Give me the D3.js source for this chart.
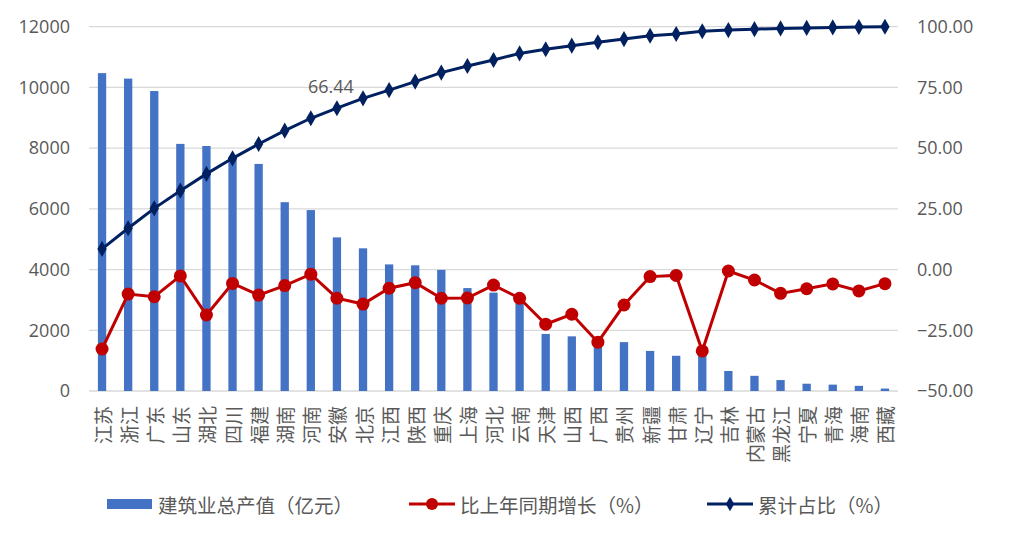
<!DOCTYPE html>
<html>
<head>
<meta charset="utf-8">
<script src="https://cdn.jsdelivr.net/npm/d3@7"></script>
<style>
  body { margin: 0; background: #fff; }
  text { font-family: "Noto Sans CJK SC", "Noto Sans", sans-serif; }
</style>
</head>
<body>
<svg id="chart" width="1009" height="543"></svg>
<script>
// ############################################
// DATA
var provinces = ["江苏","浙江","广东","山东","湖北","四川","福建","湖南","河南","安徽",
  "北京","江西","陕西","重庆","上海","河北","云南","天津","山西","广西",
  "贵州","新疆","甘肃","辽宁","吉林","内蒙古","黑龙江","宁夏","青海","海南","西藏"];

// 建筑业总产值（亿元）
var outputValue = [10470,10290,9880,8140,8070,7700,7480,6220,5960,5060,
  4700,4170,4140,3990,3390,3240,3050,1880,1800,1650,
  1610,1320,1160,1200,660,500,360,240,210,170,80];

// 比上年同期增长（%）
var growthRate = [-32.7,-10.1,-11.2,-2.6,-18.7,-5.7,-10.5,-6.6,-1.9,-11.8,
  -14.2,-7.7,-5.4,-11.8,-11.7,-6.4,-11.8,-22.5,-18.4,-29.9,
  -14.6,-2.9,-2.4,-33.5,-0.6,-4.3,-9.8,-7.9,-5.9,-8.8,-5.8];

// 累计占比（%）
var cumShare = [8.5,17.0,25.2,32.5,39.4,45.8,51.7,57.2,62.3,66.44,
  70.5,73.9,77.4,81.1,83.8,86.3,89.0,90.7,92.2,93.6,
  94.9,96.3,97.0,98.1,98.6,99.0,99.3,99.5,99.7,99.9,100.0];

var leftTicks = [0,2000,4000,6000,8000,10000,12000];
var rightTicks = [-50,-25,0,25,50,75,100];
var labelIndex = 9; // only 安徽 point carries a value label

var legendItems = [
  {name:"建筑业总产值（亿元）", type:"bar"},
  {name:"比上年同期增长（%）", type:"growth"},
  {name:"累计占比（%）", type:"cum"}
];

// ############################################
// CHART SETUP
var colBar = "#4472C4", colGrowth = "#C00000", colCum = "#002060";
var gridCol = "#D9D9D9", txtCol = "#595959";

var plot = {left: 89, right: 898, top: 26.7, bottom: 391};

var svg = d3.select("#chart");

var xScale = d3.scaleBand()
  .domain(provinces)
  .range([plot.left, plot.right]);

var yLeft = d3.scaleLinear()
  .domain([0, 12000])
  .range([plot.bottom, plot.top]);

var yRight = d3.scaleLinear()
  .domain([-50, 100])
  .range([plot.bottom, plot.top]);

// gridlines
svg.append("g")
  .selectAll("line")
  .data(leftTicks)
  .join("line")
    .attr("x1", plot.left)
    .attr("x2", plot.right)
    .attr("y1", d => yLeft(d))
    .attr("y2", d => yLeft(d))
    .attr("stroke", gridCol)
    .attr("stroke-width", 1.3);

// left axis
var leftAxis = svg.append("g")
  .attr("transform", `translate(${plot.left - 19},0)`)
  .call(d3.axisLeft(yLeft).tickValues(leftTicks).tickSize(0).tickPadding(0)
    .tickFormat(d3.format("d")));
leftAxis.select(".domain").remove();
leftAxis.selectAll("text")
  .attr("fill", txtCol)
  .style("font-size", "18px")
  .style("font-family", "'Open Sans', sans-serif");

// right axis
var rightAxis = svg.append("g")
  .attr("transform", `translate(${plot.right + 19},0)`)
  .call(d3.axisRight(yRight).tickValues(rightTicks).tickSize(0).tickPadding(0)
    .tickFormat(d3.format(".2f")));
rightAxis.select(".domain").remove();
rightAxis.selectAll("text")
  .attr("fill", txtCol)
  .style("font-size", "18px")
  .style("font-family", "'Open Sans', sans-serif");

// category labels (rotated, read bottom to top)
svg.append("g")
  .selectAll("text")
  .data(provinces)
  .join("text")
    .attr("transform", d => `translate(${xScale(d) + xScale.bandwidth() / 2},${plot.bottom + 15}) rotate(-90)`)
    .attr("text-anchor", "end")
    .attr("dominant-baseline", "central")
    .attr("fill", txtCol)
    .style("font-size", "19px")
    .text(d => d);

// ############################################
// BARS
var barW = 8.3;
svg.append("g")
  .selectAll("rect")
  .data(outputValue)
  .join("rect")
    .attr("x", (d, i) => xScale(provinces[i]) + xScale.bandwidth() / 2 - barW / 2)
    .attr("y", d => yLeft(d))
    .attr("width", barW)
    .attr("height", d => plot.bottom - yLeft(d))
    .attr("fill", colBar);

// ############################################
// LINES
var cx = (d, i) => xScale(provinces[i]) + xScale.bandwidth() / 2;

var pointLine = d3.line()
  .x(cx)
  .y(d => yRight(d));

svg.append("path")
  .attr("d", pointLine(growthRate))
  .attr("fill", "none")
  .attr("stroke", colGrowth)
  .attr("stroke-width", 3);

svg.append("g")
  .selectAll("circle")
  .data(growthRate)
  .join("circle")
    .attr("cx", cx)
    .attr("cy", d => yRight(d))
    .attr("r", 6.5)
    .attr("fill", colGrowth);

svg.append("path")
  .attr("d", pointLine(cumShare))
  .attr("fill", "none")
  .attr("stroke", colCum)
  .attr("stroke-width", 3);

var diamond = d3.symbol().type(d3.symbolDiamond).size(75);
svg.append("g")
  .selectAll("path")
  .data(cumShare)
  .join("path")
    .attr("d", diamond)
    .attr("transform", (d, i) => `translate(${cx(d, i)},${yRight(d)})`)
    .attr("fill", colCum);

// data label
svg.append("text")
  .attr("x", cx(cumShare[labelIndex], labelIndex) - 6)
  .attr("y", yRight(cumShare[labelIndex]) - 15)
  .attr("text-anchor", "middle")
  .attr("fill", txtCol)
  .style("font-size", "18px")
  .style("font-family", "'Open Sans', sans-serif")
  .text(d3.format(".2f")(cumShare[labelIndex]));

// ############################################
// LEGEND
var legX = [107, 409, 707];
var legY = 504;
var legG = svg.append("g");

legendItems.forEach(function(item, idx){
  var x0 = legX[idx];
  if (item.type === "bar") {
    legG.append("rect")
      .attr("x", x0).attr("y", legY - 5)
      .attr("width", 45).attr("height", 10)
      .attr("fill", colBar);
  } else {
    var c = item.type === "growth" ? colGrowth : colCum;
    legG.append("line")
      .attr("x1", x0).attr("x2", x0 + 46)
      .attr("y1", legY).attr("y2", legY)
      .attr("stroke", c).attr("stroke-width", 3);
    if (item.type === "growth") {
      legG.append("circle")
        .attr("cx", x0 + 23).attr("cy", legY).attr("r", 6)
        .attr("fill", c);
    } else {
      legG.append("path")
        .attr("d", d3.symbol().type(d3.symbolDiamond).size(60))
        .attr("transform", `translate(${x0 + 23},${legY})`)
        .attr("fill", c);
    }
  }
  legG.append("text")
    .attr("x", x0 + 51)
    .attr("y", legY)
    .attr("dominant-baseline", "central")
    .attr("fill", txtCol)
    .style("font-size", "19.5px")
    .text(item.name);
});
</script>
</body>
</html>
